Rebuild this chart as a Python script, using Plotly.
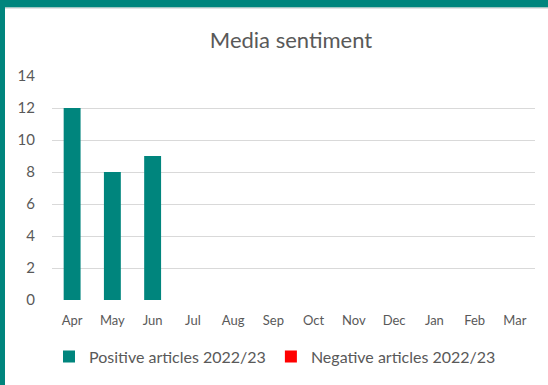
import plotly.graph_objects as go

months = ["Apr", "May", "Jun", "Jul", "Aug", "Sep", "Oct", "Nov", "Dec", "Jan", "Feb", "Mar"]
positive = [12, 8, 9, None, None, None, None, None, None, None, None, None]
negative = [None] * 12
y_ticks = [0, 2, 4, 6, 8, 10, 12, 14]

TEAL = "#00857D"
RED = "#FF0000"
GREY = "#595959"
FONT = "Lato, 'Open Sans', sans-serif"

fig = go.Figure()
fig.add_trace(go.Bar(x=months, y=positive, name="Positive articles 2022/23",
                     marker=dict(color=TEAL, line=dict(width=0)), width=0.42))
fig.add_trace(go.Bar(x=months, y=negative, name="Negative articles 2022/23",
                     marker=dict(color=RED, line=dict(width=0)), width=0.42))

# pixel -> paper helpers (plot area: x 52..535, y 76..302)
L, R, T, B = 52, 535, 76, 302
W, H = R - L, B - T
def px(x):
    return (x - L) / W
def py(y):
    return (B - y) / H

shapes = [
    dict(type="rect", xref="paper", yref="paper", x0=px(0), x1=px(548), y0=py(7), y1=py(-2),
         fillcolor=TEAL, line=dict(width=0), layer="above"),
    dict(type="rect", xref="paper", yref="paper", x0=px(-2), x1=px(5), y0=py(390), y1=py(0),
         fillcolor=TEAL, line=dict(width=0), layer="above"),
    dict(type="line", xref="paper", yref="paper", x0=px(5), x1=px(548), y0=py(7.5), y1=py(7.5),
         line=dict(color="#D0D0D0", width=1)),
]

fig.update_layout(
    width=548, height=385,
    margin=dict(l=L, r=548 - R, t=T, b=385 - B, pad=0),
    paper_bgcolor="white", plot_bgcolor="white",
    barmode="overlay",
    font=dict(family=FONT, color=GREY),
    title=dict(text="Media sentiment", font=dict(size=22, color=GREY, family=FONT),
               x=291 / 548, xanchor="center", y=1 - 40 / 385, yanchor="middle"),
    xaxis=dict(type="category", tickfont=dict(size=13, color=GREY), showgrid=False,
               showline=False, ticks="outside", ticklen=8, tickcolor="rgba(0,0,0,0)"),
    yaxis=dict(range=[0, 14], tickvals=y_ticks, tickfont=dict(size=15, color=GREY),
               showgrid=True, gridcolor="#D9D9D9", gridwidth=1, zeroline=False,
               showline=False, ticks="outside", ticklen=13, tickcolor="rgba(0,0,0,0)"),
    legend=dict(orientation="h", x=px(275), xanchor="center", y=py(359), yanchor="middle",
                font=dict(size=16, color=GREY), itemwidth=30, traceorder="normal"),
    shapes=shapes,
    showlegend=True,
)

fig.write_html("out.html")
